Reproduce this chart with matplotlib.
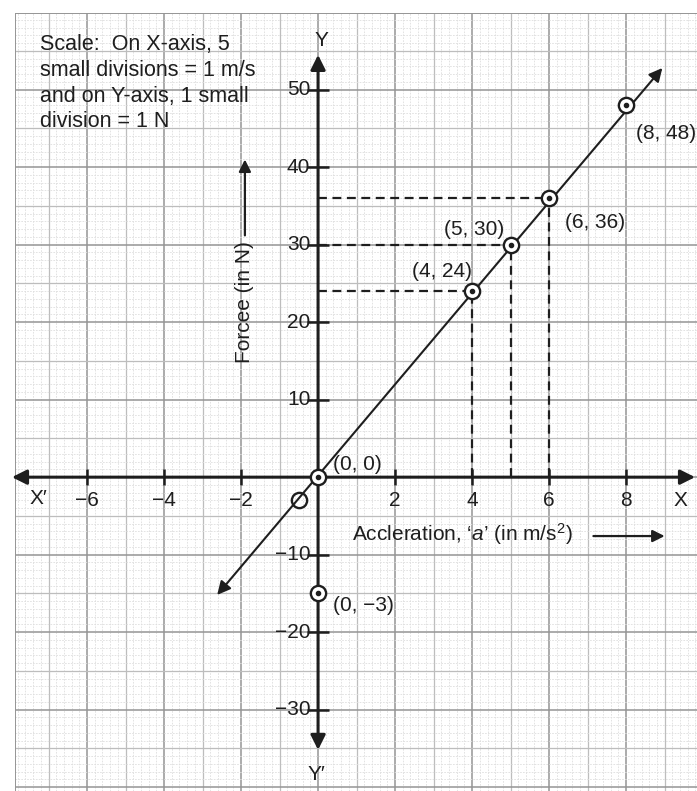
# libraries
import matplotlib
matplotlib.use('Agg')
import matplotlib.pyplot as plt
import numpy as np

plt.rcParams['font.family'] = ['Liberation Sans', 'DejaVu Sans']
plt.rcParams['mathtext.fontset'] = 'custom'
plt.rcParams['mathtext.rm'] = 'Liberation Sans'
plt.rcParams['mathtext.it'] = 'Liberation Sans:italic'

# data: acceleration (m/s^2) and force (N)
accel = [4, 5, 6, 8]
force = [24, 30, 36, 48]
point_labels = ['(4, 24)', '(5, 30)', '(6, 36)', '(8, 48)']
origin = (0, 0)
extra_point = (-0.5, -3)          # unlabelled circle on the line
marked_point = (0, -15)           # circle on the Y-axis
marked_label = '(0, \u22123)'

# graph line end points (arrow tips)
line_a = [-2.62, 8.94]
line_f = [-15.2, 52.8]

# axis ticks
xtick_vals = [-6, -4, -2, 2, 4, 6, 8]
ytick_vals = [50, 40, 30, 20, 10, -10, -20, -30]

ink = '#1e1e1e'
fs = 15

fig = plt.figure(figsize=(6.97, 7.91), dpi=100)
ax = fig.add_axes([15 / 697, 0, 1 - 15 / 697, (791 - 13) / 791])
ax.set_xlim(-7.87, 9.84)
ax.set_ylim(-40.5, 59.9)
ax.axis('off')

# graph paper
x0, x1 = ax.get_xlim()
y0, y1 = ax.get_ylim()
for gx in np.arange(-8, 10.01, 0.2):
    gx = round(gx, 1)
    if gx % 2 == 0:
        ax.axvline(gx, color='#959595', lw=1.1, zorder=0)
    elif gx % 1 == 0:
        ax.axvline(gx, color='#bdbdbd', lw=0.9, zorder=0)
    else:
        ax.axvline(gx, color='#dedede', lw=0.6, ls=(0, (2, 1.5)), zorder=0)
for gy in range(-41, 61):
    if gy % 10 == 0:
        ax.axhline(gy, color='#959595', lw=1.1, zorder=0)
    elif gy % 5 == 0:
        ax.axhline(gy, color='#bdbdbd', lw=0.9, zorder=0)
    else:
        ax.axhline(gy, color='#dedede', lw=0.6, ls=(0, (2, 1.5)), zorder=0)
ax.axvline(x0, color='#959595', lw=1.4, zorder=0)
ax.axhline(y1, color='#959595', lw=1.4, zorder=0)

# X and Y axes with arrow heads
arrow_kw = dict(arrowstyle='<|-|>', color=ink, lw=2.2, mutation_scale=22,
                shrinkA=0, shrinkB=0)
ax.annotate('', xy=(9.79, 0), xytext=(-7.95, 0), arrowprops=arrow_kw, zorder=3)
ax.annotate('', xy=(0, 54.5), xytext=(0, -35.2), arrowprops=arrow_kw, zorder=3)

# tick marks
ax.plot(xtick_vals, [0] * len(xtick_vals), ls='none', marker='|', ms=11,
        mew=1.8, color=ink, zorder=3)
ax.plot([0] * len(ytick_vals), ytick_vals, ls='none', marker='_', ms=16,
        mew=1.8, color=ink, zorder=3)

for v in xtick_vals:
    ax.text(v, -3.0, str(v).replace('-', '\u2212'), ha='center', va='center',
            fontsize=fs, color=ink)
for v in ytick_vals:
    ax.text(-0.2, v, str(v).replace('-', '\u2212'), ha='right', va='center',
            fontsize=fs, color=ink)

ax.text(0.1, 56.4, 'Y', ha='center', va='center', fontsize=fs, color=ink)
ax.text(-0.05, -38.4, 'Y\u2032', ha='center', va='center', fontsize=fs, color=ink)
ax.text(-7.25, -2.8, 'X\u2032', ha='center', va='center', fontsize=fs, color=ink)
ax.text(9.4, -3.0, 'X', ha='center', va='center', fontsize=fs, color=ink)

# the graph line F = m a
ax.annotate('', xy=(line_a[1], line_f[1]), xytext=(line_a[0], line_f[0]),
            arrowprops=dict(arrowstyle='<|-|>', color=ink, lw=1.5,
                            mutation_scale=20, shrinkA=0, shrinkB=0), zorder=4)

# dashed guides from the axes to the points
for a, f in zip(accel[:3], force[:3]):
    ax.plot([0, a], [f, f], color=ink, lw=1.6, ls=(0, (4, 2.5)), zorder=2)
    ax.plot([a, a], [0, f], color=ink, lw=1.6, ls=(0, (4, 2.5)), zorder=2)

# plotted points
pts_x = accel + [origin[0], marked_point[0]]
pts_y = force + [origin[1], marked_point[1]]
ax.plot(pts_x, pts_y, ls='none', marker='o', ms=11, mfc='white', mec=ink,
        mew=1.7, zorder=5)
ax.plot(pts_x, pts_y, ls='none', marker='o', ms=3, color=ink, zorder=6)
ax.plot([extra_point[0]], [extra_point[1]], ls='none', marker='o', ms=11,
        mfc='none', mec=ink, mew=1.7, zorder=5)

# point labels
label_pos = [(2.44, 26.5), (3.27, 31.9), (6.42, 32.9), (8.26, 44.4)]
for (lx, ly), txt in zip(label_pos, point_labels):
    ax.text(lx, ly, txt, ha='left', va='center', fontsize=fs, color=ink)
ax.text(0.39, 1.6, '(0, 0)', ha='left', va='center', fontsize=fs, color=ink)
ax.text(0.39, -16.6, marked_label, ha='left', va='center', fontsize=fs, color=ink)

# axis titles
ax.text(-1.9, 22.6, 'Forcee (in N)', rotation=90, ha='center', va='center',
        fontsize=fs, color=ink)
ax.annotate('', xy=(-1.9, 41.0), xytext=(-1.9, 31.2),
            arrowprops=dict(arrowstyle='-|>', color=ink, lw=1.6,
                            mutation_scale=18, shrinkA=0, shrinkB=0))
ax.text(0.88, -7.3, 'Accleration, \u2018$a$\u2019 (in m/s$^2$)', ha='left',
        va='center', fontsize=fs, color=ink)
ax.annotate('', xy=(9.0, -7.6), xytext=(7.15, -7.6),
            arrowprops=dict(arrowstyle='-|>', color=ink, lw=1.6,
                            mutation_scale=18, shrinkA=0, shrinkB=0))

# scale note
ax.text(-7.22, 57.2, 'Scale:  On X-axis, 5\nsmall divisions = 1 m/s\n'
        'and on Y-axis, 1 small\ndivision = 1 N', ha='left', va='top',
        fontsize=15.5, color=ink, linespacing=1.3)

plt.savefig('out.png', dpi=100)
